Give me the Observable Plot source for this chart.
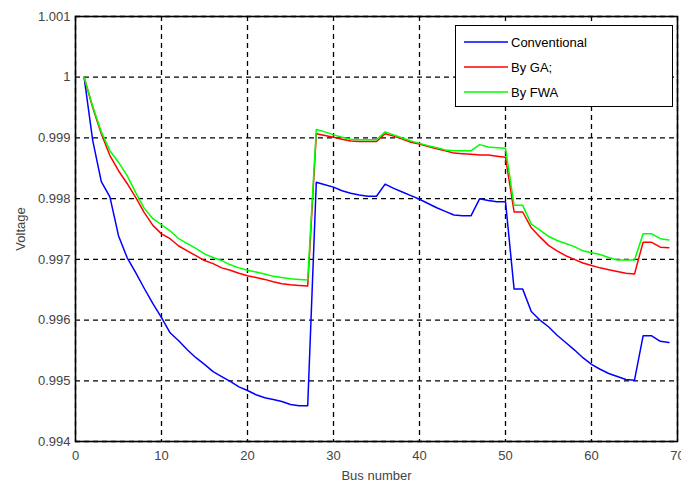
<!DOCTYPE html>
<html>
<head>
<meta charset="utf-8">
<script src="https://cdn.jsdelivr.net/npm/d3@7"></script>
<script src="https://cdn.jsdelivr.net/npm/@observablehq/plot@0.6"></script>
<style>
  html, body { margin: 0; padding: 0; background: #fff; }
  #wrap { position: relative; width: 681px; height: 489px; font-family: "Liberation Sans", Arial, sans-serif; }
  #legend { position: absolute; left: 455px; top: 25px; width: 216px; height: 80px; border: 1.5px solid #000; background: #fff; box-sizing: content-box; }
  .row { position: absolute; left: 0; height: 20px; display: flex; align-items: center; }
  .sw { display: block; margin-left: 8px; margin-right: 3px; }
  .lbl { font-size: 13px; color: #000; }
</style>
</head>
<body>
<div id="wrap"></div>
<script>
const buses = [1,2,3,4,5,6,7,8,9,10,11,12,13,14,15,16,17,18,19,20,21,22,23,24,25,26,27,28,29,30,31,32,33,34,35,36,37,38,39,40,41,42,43,44,45,46,47,48,49,50,51,52,53,54,55,56,57,58,59,60,61,62,63,64,65,66,67,68,69];

const conventional = [
  1.00000, 0.99896, 0.99828, 0.99803, 0.99739, 0.99703, 0.99678, 0.99652, 0.99627, 0.99604,
  0.99579, 0.99566, 0.99551, 0.99538, 0.99527, 0.99515, 0.99507, 0.99499, 0.99490, 0.99484,
  0.99477, 0.99472, 0.99469, 0.99466, 0.99461, 0.99459, 0.99459, 0.99827, 0.99823, 0.99819,
  0.99813, 0.99809, 0.99806, 0.99804, 0.99804, 0.99824, 0.99817, 0.99811, 0.99805, 0.99799,
  0.99792, 0.99785, 0.99779, 0.99773, 0.99772, 0.99772, 0.99800, 0.99797, 0.99795, 0.99795,
  0.99651, 0.99651, 0.99614, 0.99600, 0.99589, 0.99575, 0.99563, 0.99551, 0.99538, 0.99527,
  0.99519, 0.99512, 0.99507, 0.99502, 0.99501, 0.99574, 0.99574, 0.99565, 0.99563];

const byGA = [
  1.00000, 0.99950, 0.99907, 0.99871, 0.99846, 0.99825, 0.99802, 0.99777, 0.99756, 0.99742,
  0.99734, 0.99722, 0.99714, 0.99706, 0.99698, 0.99693, 0.99686, 0.99682, 0.99677, 0.99673,
  0.99670, 0.99667, 0.99663, 0.99660, 0.99658, 0.99657, 0.99656, 0.99907, 0.99904, 0.99901,
  0.99898, 0.99895, 0.99894, 0.99894, 0.99894, 0.99907, 0.99903, 0.99898, 0.99893, 0.99890,
  0.99886, 0.99882, 0.99879, 0.99875, 0.99874, 0.99873, 0.99872, 0.99872, 0.99870, 0.99868,
  0.99778, 0.99778, 0.99752, 0.99737, 0.99723, 0.99714, 0.99706, 0.99700, 0.99694, 0.99690,
  0.99686, 0.99683, 0.99680, 0.99677, 0.99676, 0.99728, 0.99728, 0.99720, 0.99719];

const byFWA = [
  1.00000, 0.99952, 0.99910, 0.99879, 0.99860, 0.99838, 0.99810, 0.99784, 0.99767, 0.99757,
  0.99747, 0.99734, 0.99726, 0.99718, 0.99709, 0.99703, 0.99698, 0.99691, 0.99686, 0.99682,
  0.99679, 0.99676, 0.99672, 0.99670, 0.99668, 0.99667, 0.99666, 0.99914, 0.99910, 0.99905,
  0.99901, 0.99898, 0.99897, 0.99897, 0.99897, 0.99910, 0.99905, 0.99900, 0.99895, 0.99891,
  0.99887, 0.99884, 0.99880, 0.99879, 0.99879, 0.99879, 0.99889, 0.99885, 0.99884, 0.99883,
  0.99789, 0.99789, 0.99758, 0.99748, 0.99738, 0.99731, 0.99726, 0.99721, 0.99714, 0.99711,
  0.99708, 0.99703, 0.99699, 0.99699, 0.99699, 0.99742, 0.99742, 0.99734, 0.99732];

const seriesNames = ["Conventional", "By GA;", "By FWA"];
const seriesColors = ["#0000ff", "#ff0000", "#00ff00"];
const seriesValues = [conventional, byGA, byFWA];

const xTicks = [0, 10, 20, 30, 40, 50, 60, 70];
const yTicks = [0.994, 0.995, 0.996, 0.997, 0.998, 0.999, 1.000, 1.001];
const yTickLabels = ["0.994", "0.995", "0.996", "0.997", "0.998", "0.999", "1", "1.001"];

const rows = [];
seriesValues.forEach((vals, s) => {
  vals.forEach((v, i) => rows.push({bus: buses[i], v, series: seriesNames[s]}));
});

const chart = Plot.plot({
  width: 681,
  height: 489,
  marginLeft: 75,
  marginRight: 4,
  marginTop: 16,
  marginBottom: 48,
  style: {fontFamily: '"Liberation Sans", Arial, sans-serif', fontSize: "13px", background: "#fff"},
  x: {domain: [0, 70]},
  y: {domain: [0.994, 1.001]},
  color: {domain: seriesNames, range: seriesColors},
  marks: [
    Plot.gridX(xTicks, {stroke: "#000", strokeOpacity: 1, strokeWidth: 1.3, strokeDasharray: "5,4"}),
    Plot.gridY(yTicks, {stroke: "#000", strokeOpacity: 1, strokeWidth: 1.3, strokeDasharray: "5,4"}),
    Plot.line(rows, {x: "bus", y: "v", z: "series", stroke: "series", strokeWidth: 1.5}),
    Plot.frame({stroke: "#000", strokeWidth: 1.6}),
    Plot.axisX({ticks: xTicks, tickSize: 0, tickPadding: 9, fill: "#444", fontSize: 13,
      label: "Bus number", labelAnchor: "center", labelArrow: "none", labelOffset: 38}),
    Plot.axisY({ticks: yTicks, tickSize: 0, tickPadding: 5, fill: "#444", fontSize: 13,
      tickFormat: (d) => yTickLabels[yTicks.findIndex(t => Math.abs(t - d) < 1e-9)],
      label: "Voltage", labelAnchor: "center", labelArrow: "none", labelOffset: 60})
  ]
});

const wrap = document.getElementById("wrap");
wrap.appendChild(chart);

const legend = document.createElement("div");
legend.id = "legend";
const NS = "http://www.w3.org/2000/svg";
seriesNames.forEach((name, i) => {
  const row = document.createElement("div");
  row.className = "row";
  row.style.top = (6 + i * 25) + "px";
  const sw = document.createElementNS(NS, "svg");
  sw.setAttribute("class", "sw");
  sw.setAttribute("width", "44");
  sw.setAttribute("height", "4");
  const ln = document.createElementNS(NS, "line");
  ln.setAttribute("x1", "0"); ln.setAttribute("x2", "44");
  ln.setAttribute("y1", "2"); ln.setAttribute("y2", "2");
  ln.setAttribute("stroke", seriesColors[i]);
  ln.setAttribute("stroke-width", "1.5");
  sw.appendChild(ln);
  const lbl = document.createElement("span");
  lbl.className = "lbl";
  lbl.textContent = name;
  row.appendChild(sw);
  row.appendChild(lbl);
  legend.appendChild(row);
});
wrap.appendChild(legend);
</script>
</body>
</html>
